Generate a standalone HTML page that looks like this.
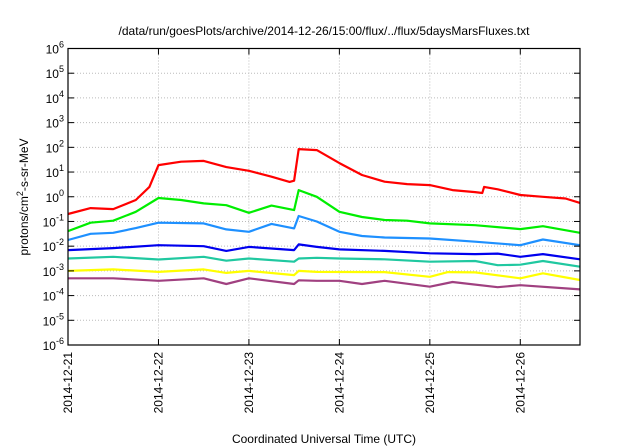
<!DOCTYPE html>
<html><head><meta charset="utf-8"><style>
body{margin:0;background:#fff;}
svg{display:block;font-family:"Liberation Sans",sans-serif;}
</style></head><body>
<svg id="chart" width="640" height="448" viewBox="0 0 640 448" xmlns="http://www.w3.org/2000/svg">
<text x="324" y="35" font-size="12" text-anchor="middle">/data/run/goesPlots/archive/2014-12-26/15:00/flux/../flux/5daysMarsFluxes.txt</text>
<text x="324" y="443" font-size="12" text-anchor="middle">Coordinated Universal Time (UTC)</text>
<text transform="translate(28,197) rotate(-90)" font-size="12" text-anchor="middle">protons/cm<tspan dy="-5" font-size="9">2</tspan><tspan dy="5">-s-sr-MeV</tspan></text>
<g id="grid"></g>
<g id="series"></g>
<g id="axes"></g>
</svg>
<script>
const xTickLabels=["2014-12-21","2014-12-22","2014-12-23","2014-12-24","2014-12-25","2014-12-26"];
const yTickExps=[-6,-5,-4,-3,-2,-1,0,1,2,3,4,5,6];
const seriesColors=["#ff0000","#00ee00","#1e90ff","#0000ee","#20c8a0","#ffff00","#a04080"];
const redDays=[0,0.25,0.5,0.75,0.9,1.0,1.25,1.5,1.75,2.0,2.25,2.45,2.5,2.55,2.75,3.0,3.25,3.5,3.75,4.0,4.25,4.5,4.58,4.6,4.75,5.0,5.25,5.5,5.66];
const redLog=[-0.7,-0.46,-0.5,-0.13,0.4,1.28,1.42,1.45,1.2,1.05,0.81,0.6,0.65,1.93,1.89,1.36,0.88,0.61,0.51,0.47,0.27,0.19,0.15,0.4,0.3,0.07,0.0,-0.07,-0.25];
const greenDays=[0,0.25,0.5,0.75,1.0,1.25,1.5,1.75,2.0,2.25,2.5,2.55,2.75,3.0,3.25,3.5,3.75,4.0,4.5,5.0,5.25,5.66];
const greenLog=[-1.39,-1.05,-0.97,-0.61,-0.05,-0.13,-0.27,-0.34,-0.65,-0.36,-0.54,0.27,0.0,-0.61,-0.82,-0.94,-0.97,-1.08,-1.15,-1.31,-1.19,-1.46];
const lblueDays=[0,0.25,0.5,0.75,1.0,1.5,1.75,2.0,2.25,2.5,2.55,2.75,3.0,3.25,3.5,4.0,4.5,5.0,5.25,5.66];
const lblueLog=[-1.75,-1.5,-1.46,-1.27,-1.05,-1.08,-1.32,-1.42,-1.1,-1.28,-0.78,-1.0,-1.42,-1.59,-1.65,-1.69,-1.82,-1.96,-1.73,-1.96];
const blueDays=[0,0.5,1.0,1.5,1.75,2.0,2.5,2.55,2.75,3.0,3.5,4.0,4.5,4.75,5.0,5.25,5.66];
const blueLog=[-2.16,-2.08,-1.96,-2.0,-2.19,-2.03,-2.16,-1.93,-2.03,-2.13,-2.19,-2.29,-2.32,-2.3,-2.43,-2.32,-2.53];
const tealDays=[0,0.5,1.0,1.5,1.75,2.0,2.5,2.55,2.75,3.0,3.5,4.0,4.5,4.75,5.0,5.25,5.66];
const tealLog=[-2.5,-2.43,-2.54,-2.43,-2.59,-2.5,-2.63,-2.5,-2.47,-2.5,-2.53,-2.63,-2.6,-2.77,-2.75,-2.6,-2.83];
const yellowDays=[0,0.5,1.0,1.5,1.75,2.0,2.5,2.55,2.75,3.5,4.0,4.2,4.5,5.0,5.25,5.66];
const yellowLog=[-3.0,-2.94,-3.04,-2.94,-3.08,-3.0,-3.17,-3.0,-3.04,-3.05,-3.24,-3.05,-3.06,-3.3,-3.1,-3.37];
const purpleDays=[0,0.5,1.0,1.5,1.75,2.0,2.5,2.55,2.75,3.0,3.25,3.5,4.0,4.25,4.75,5.0,5.66];
const purpleLog=[-3.3,-3.3,-3.4,-3.3,-3.53,-3.3,-3.53,-3.38,-3.4,-3.4,-3.53,-3.4,-3.64,-3.45,-3.66,-3.58,-3.75];

const L=68,R=580,T=48.5,B=345,xMax=5.66;
const NS="http://www.w3.org/2000/svg";
function xs(d){return L+d*(R-L)/xMax;}
function ys(l){return B-(l+6)*(B-T)/12;}
function mk(tag,attrs,parent){const e=document.createElementNS(NS,tag);for(const k in attrs)e.setAttribute(k,attrs[k]);parent.appendChild(e);return e;}
const grid=document.getElementById('grid'),axes=document.getElementById('axes'),ser=document.getElementById('series');
yTickExps.forEach(function(p){
  const y=ys(p);
  if(p>-6&&p<6){const g=mk('line',{x1:L,x2:R,y1:y,y2:y,stroke:'#bbb','stroke-dasharray':'1,2','stroke-width':1},grid);
  
  }
  const t1=mk('line',{x1:L,x2:L+6,y1:y,y2:y,stroke:'#000'},axes);
  
  
  const t2=mk('line',{x1:R-6,x2:R,y1:y,y2:y,stroke:'#000'},axes);
  
  
  const tx=mk('text',{x:L-4,y:y+5,'font-size':12,'text-anchor':'end'},axes);
  
  
  const ts=document.createElementNS(NS,'tspan');ts.textContent='10';tx.appendChild(ts);
  const sp=mk('tspan',{dy:-6,'font-size':9},tx);sp.textContent=String(p);
});
xTickLabels.forEach(function(lab,i){
  const x=xs(i);
  if(i>0){const g=mk('line',{x1:x,x2:x,y1:T,y2:B,stroke:'#bbb','stroke-dasharray':'1,2'},grid);
  
  }
  const t1=mk('line',{x1:x,x2:x,y1:B-6,y2:B,stroke:'#000'},axes);
  
  
  const t2=mk('line',{x1:x,x2:x,y1:T,y2:T+6,stroke:'#000'},axes);
  
  
  const tx=mk('text',{transform:'translate('+(x+4)+','+(B+7)+') rotate(-90)','font-size':12,'text-anchor':'end'},axes);
  
  
  tx.textContent=lab;
});
const fr=mk('rect',{x:L,y:T,width:R-L,height:B-T,fill:'none',stroke:'#000','stroke-width':1.2},axes);


const all=[[purpleDays,purpleLog,'purple'],[yellowDays,yellowLog,'yellow'],[tealDays,tealLog,'teal'],[blueDays,blueLog,'blue'],[lblueDays,lblueLog,'light-blue'],[greenDays,greenLog,'green'],[redDays,redLog,'red']];
const cols={red:seriesColors[0],green:seriesColors[1],'light-blue':seriesColors[2],blue:seriesColors[3],teal:seriesColors[4],yellow:seriesColors[5],purple:seriesColors[6]};
all.forEach(function(s){
  const pts=s[0].map(function(d,i){return xs(d).toFixed(1)+','+ys(s[1][i]).toFixed(1);}).join(' ');
  const pl=mk('polyline',{points:pts,fill:'none',stroke:cols[s[2]],'stroke-width':2.2,'stroke-linejoin':'round'},ser);
  
  
});
</script>
</body></html>
